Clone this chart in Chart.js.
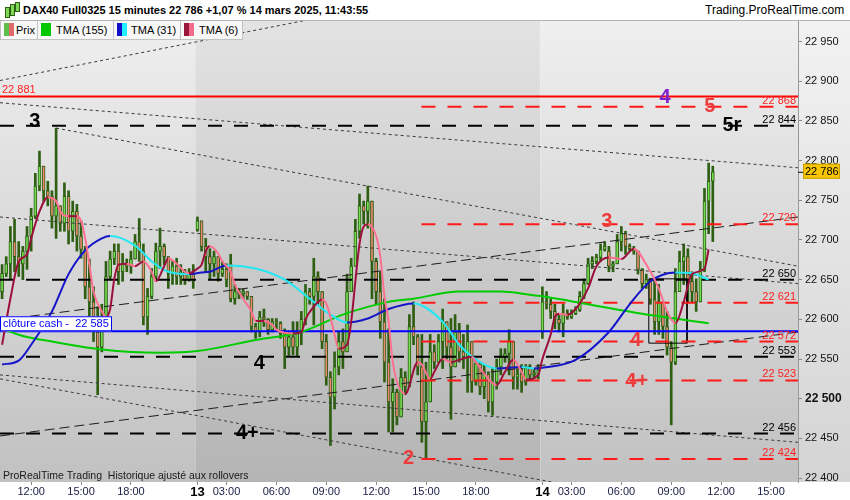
<!DOCTYPE html>
<html>
<head>
<meta charset="utf-8">
<script src="https://cdn.jsdelivr.net/npm/chart.js@4.4.1/dist/chart.umd.min.js"></script>
<style>
  body { margin: 0; width: 850px; height: 500px; overflow: hidden; background: #fff;
         font-family: "Liberation Sans", Arial, sans-serif; }
  #wrap { position: relative; width: 850px; height: 500px; }
  #title { position: absolute; left: 0; top: 0; width: 850px; height: 21px; background: #fff;
           border-bottom: 1px solid #b4b4b4; box-sizing: border-box; font-size: 11px; line-height: 21px; }
  #title b { position: absolute; left: 23px; top: 0; }
  #site { position: absolute; left: 705px; top: 0; font-size: 12px; }
  .ico { position: absolute; top: 3px; width: 3px; background: #7ed957; border: 1px solid #2d5e12; }
  #legend .lg { position: absolute; top: 21px; height: 19px; box-sizing: border-box; background: #f7f7f7;
                border: 1px solid #c2c2c2; border-top: none; font-size: 11px; line-height: 18px; }
  .sw { position: absolute; left: 3px; top: 2px; width: 10px; height: 13px; }
  .sw i { display: block; float: left; width: 5px; height: 13px; }
  .lg span.t { position: absolute; }
</style>
</head>
<body>
<div id="wrap">
  <canvas id="chart" width="850" height="500"></canvas>
  <div id="title">
    <div class="ico" style="left:5px;top:7px;height:9px"></div>
    <div class="ico" style="left:10px;top:4px;height:10px"></div>
    <div class="ico" style="left:15px;top:2px;height:8px"></div>
    <b>DAX40 Full0325 15 minutes 22 786 +1,07 % 14 mars 2025, 11:43:55</b>
    <span id="site">Trading.ProRealTime.com</span>
  </div>
  <div id="legend">
    <div class="lg" style="left:0;width:38px"><span class="sw"><i style="background:#5cbf4a"></i><i style="background:#e06a6a"></i></span><span class="t" style="left:15px">Prix</span></div>
    <div class="lg" style="left:37px;width:77px"><span class="sw"><i style="background:#00c800"></i><i style="background:#00c800"></i></span><span class="t" style="left:18px">TMA (155)</span></div>
    <div class="lg" style="left:113px;width:68px"><span class="sw"><i style="background:#1010c8"></i><i style="background:#20f0ff"></i></span><span class="t" style="left:17px">TMA (31)</span></div>
    <div class="lg" style="left:180px;width:63px"><span class="sw"><i style="background:#99163a"></i><i style="background:#f26b8a"></i></span><span class="t" style="left:18px">TMA (6)</span></div>
  </div>
</div>
<script>
// sessions: day, first bar (minutes), number of 15 min slots
const sessions = [['12', 615, 47], ['13', 75, 83], ['14', 75, 62]];

const xTickKeys = ['12 12:00', '12 15:00', '12 18:00', '13', '13 03:00', '13 06:00', '13 09:00',
  '13 12:00', '13 15:00', '13 18:00', '14', '14 03:00', '14 06:00', '14 09:00', '14 12:00', '14 15:00'];
const yTicks = [22400, 22450, 22500, 22550, 22600, 22650, 22700, 22750, 22800, 22850, 22900, 22950];

// 15 minute bars, 12 mars 10:15 -> 14 mars 11:30
const opens = [
  22635, 22658, 22670, 22698, 22679, 22670, 22686, 22705, 22730, 22768,
  22793, 22762, 22755, 22730, 22743, 22721, 22755, 22711, 22736, 22705,
  22688, 22641, 22622, 22584, 22565, 22603, 22654, 22676, 22686, 22660,
  22670, 22667, 22676, 22698, 22686, 22603, 22629, 22654, 22686, 22692,
  22679, 22658, 22667, 22654, 22660, 22650, 22658,
  22713, 22724, 22692, 22679, 22670, 22679, 22658, 22663, 22670, 22626,
  22635, 22632, 22635, 22629, 22591, 22584, 22603, 22600, 22587, 22597,
  22595, 22582, 22565, 22578, 22565, 22584, 22600, 22635, 22629, 22654,
  22635, 22572, 22527, 22502, 22540, 22572, 22559, 22635, 22667, 22711,
  22743, 22736, 22749, 22673, 22635, 22597, 22546, 22496, 22508, 22477,
  22527, 22515, 22591, 22578, 22540, 22471, 22496, 22559, 22546, 22572,
  22597, 22565, 22540, 22584, 22559, 22553, 22572, 22521, 22544, 22515,
  22531, 22496, 22521, 22540, 22553, 22557, 22572, 22527, 22531, 22521,
  22539, 22530, 22531,
  22584, 22622, 22619, 22610, 22600, 22595, 22607, 22603, 22607, 22612,
  22629, 22645, 22670, 22673, 22678, 22688, 22686, 22667, 22670, 22698,
  22708, 22692, 22689, 22686, 22663, 22645, 22650, 22625, 22597, 22622,
  22591, 22565, 22546, 22635, 22673, 22679, 22648, 22635, 22622, 22663,
  22749, 22774
];
const highs = [
  22669, 22679, 22717, 22726, 22698, 22692, 22717, 22740, 22784, 22812,
  22793, 22774, 22762, 22841, 22743, 22772, 22762, 22749, 22745, 22724,
  22692, 22676, 22641, 22616, 22619, 22673, 22686, 22695, 22695, 22683,
  22676, 22686, 22707, 22727, 22695, 22639, 22664, 22696, 22715, 22695,
  22679, 22673, 22677, 22669, 22663, 22664, 22669,
  22729, 22724, 22702, 22689, 22686, 22679, 22673, 22670, 22682, 22644,
  22639, 22638, 22635, 22629, 22595, 22610, 22613, 22601, 22601, 22601,
  22597, 22588, 22584, 22597, 22597, 22610, 22644, 22639, 22677, 22660,
  22635, 22581, 22534, 22559, 22584, 22588, 22657, 22677, 22726, 22758,
  22749, 22768, 22749, 22677, 22660, 22626, 22588, 22525, 22512, 22538,
  22534, 22606, 22622, 22581, 22581, 22546, 22581, 22568, 22581, 22613,
  22597, 22601, 22606, 22595, 22581, 22593, 22572, 22550, 22546, 22543,
  22534, 22538, 22550, 22563, 22563, 22587, 22572, 22538, 22543, 22543,
  22543, 22538, 22543,
  22641, 22635, 22626, 22619, 22606, 22619, 22612, 22612, 22616, 22635,
  22651, 22677, 22679, 22682, 22695, 22698, 22692, 22673, 22707, 22717,
  22711, 22695, 22692, 22686, 22664, 22657, 22651, 22651, 22644, 22622,
  22610, 22572, 22664, 22686, 22695, 22689, 22660, 22651, 22673, 22765,
  22797, 22793
];
const lows = [
  22626, 22654, 22651, 22660, 22654, 22650, 22663, 22686, 22727, 22762,
  22749, 22743, 22715, 22702, 22711, 22711, 22695, 22698, 22686, 22677,
  22626, 22603, 22572, 22505, 22559, 22603, 22650, 22669, 22644, 22648,
  22660, 22658, 22676, 22673, 22593, 22581, 22626, 22651, 22664, 22669,
  22639, 22644, 22644, 22644, 22644, 22648, 22639,
  22711, 22686, 22660, 22650, 22654, 22648, 22654, 22641, 22622, 22619,
  22626, 22626, 22625, 22584, 22576, 22578, 22591, 22581, 22584, 22588,
  22576, 22538, 22553, 22555, 22553, 22568, 22593, 22619, 22593, 22619,
  22563, 22517, 22441, 22487, 22530, 22538, 22559, 22635, 22667, 22702,
  22720, 22715, 22626, 22619, 22576, 22521, 22458, 22458, 22467, 22477,
  22505, 22515, 22568, 22530, 22445, 22424, 22496, 22538, 22546, 22538,
  22550, 22474, 22540, 22546, 22538, 22508, 22508, 22517, 22505, 22500,
  22483, 22479, 22512, 22530, 22546, 22530, 22512, 22512, 22508, 22517,
  22525, 22525, 22525,
  22576, 22613, 22601, 22588, 22584, 22578, 22600, 22601, 22606, 22610,
  22626, 22644, 22664, 22670, 22673, 22686, 22660, 22660, 22670, 22686,
  22682, 22686, 22682, 22657, 22639, 22639, 22619, 22581, 22581, 22576,
  22555, 22467, 22543, 22635, 22644, 22622, 22622, 22610, 22622, 22660,
  22708, 22698
];
const closes = [
  22658, 22670, 22698, 22679, 22670, 22686, 22705, 22730, 22768, 22793,
  22762, 22755, 22730, 22743, 22721, 22755, 22711, 22736, 22705, 22688,
  22641, 22622, 22584, 22565, 22603, 22654, 22676, 22686, 22660, 22670,
  22667, 22676, 22698, 22686, 22603, 22629, 22654, 22686, 22692, 22679,
  22658, 22667, 22654, 22660, 22650, 22658, 22648,
  22724, 22692, 22679, 22670, 22679, 22658, 22663, 22650, 22626, 22635,
  22632, 22635, 22629, 22591, 22584, 22603, 22600, 22587, 22597, 22595,
  22582, 22565, 22578, 22565, 22584, 22600, 22635, 22629, 22654, 22635,
  22572, 22527, 22502, 22540, 22572, 22559, 22635, 22667, 22711, 22743,
  22736, 22749, 22673, 22635, 22597, 22546, 22496, 22508, 22477, 22527,
  22515, 22591, 22578, 22540, 22471, 22496, 22559, 22546, 22572, 22597,
  22565, 22540, 22584, 22559, 22553, 22572, 22521, 22544, 22515, 22531,
  22496, 22521, 22540, 22553, 22557, 22572, 22527, 22531, 22521, 22539,
  22530, 22531, 22536,
  22622, 22619, 22610, 22600, 22595, 22607, 22603, 22607, 22612, 22629,
  22645, 22670, 22673, 22678, 22688, 22692, 22667, 22670, 22698, 22708,
  22692, 22689, 22686, 22663, 22645, 22650, 22625, 22597, 22622, 22591,
  22565, 22546, 22635, 22673, 22679, 22648, 22635, 22622, 22663, 22749,
  22774, 22786
];

// moving averages: [bar index, value]
const tma155 = [[0, 22588], [5, 22579], [12, 22572], [24, 22562], [38, 22558], [47, 22560], [61, 22574],
  [72, 22584], [82, 22606], [93, 22622], [99, 22626], [110, 22635], [120, 22635], [127, 22631],
  [130, 22629], [141, 22619], [154, 22607], [162, 22601], [170, 22595]];
const tma31 = [[0, 22543], [4, 22548], [7, 22568], [12, 22610], [16, 22657], [20, 22687], [24, 22702],
  [26, 22705], [32, 22693], [36, 22673], [40, 22660], [45, 22657], [48, 22659], [50, 22660], [54, 22668],
  [61, 22664], [68, 22650], [74, 22626], [79, 22606], [83, 22596], [88, 22601], [93, 22613], [99, 22620],
  [106, 22597], [110, 22568], [115, 22546], [119, 22538], [125, 22540], [128, 22538], [130, 22539],
  [138, 22549], [146, 22584], [151, 22619], [156, 22648], [162, 22659], [166, 22658], [170, 22650]];
const tma6 = [[0, 22568], [2, 22626], [4, 22673], [6, 22682], [7, 22702], [9, 22736], [11, 22754],
  [13, 22749], [14, 22736], [16, 22730], [18, 22730], [19, 22724], [20, 22702], [21, 22669], [22, 22635],
  [24, 22610], [25, 22603], [26, 22613], [27, 22651], [28, 22669], [30, 22670], [32, 22667], [34, 22673],
  [36, 22660], [37, 22648], [39, 22667], [40, 22677], [42, 22670], [44, 22660], [45, 22658], [47, 22664],
  [48, 22669], [49, 22686], [50, 22692], [52, 22683], [53, 22673], [55, 22660], [56, 22644], [58, 22626],
  [60, 22610], [61, 22598], [63, 22598], [65, 22593], [66, 22587], [68, 22583], [70, 22582], [72, 22584],
  [73, 22600], [75, 22616], [77, 22625], [78, 22620], [79, 22603], [80, 22581], [81, 22563], [83, 22568],
  [84, 22597], [85, 22648], [86, 22695], [87, 22717], [88, 22720], [90, 22705], [91, 22679], [92, 22629],
  [93, 22597], [94, 22546], [97, 22506], [100, 22546], [101, 22543], [103, 22525], [104, 22534],
  [106, 22550], [108, 22546], [110, 22549], [113, 22553], [114, 22546], [117, 22525], [119, 22517],
  [121, 22534], [123, 22549], [125, 22534], [126, 22524], [129, 22530], [130, 22550], [132, 22581],
  [133, 22603], [134, 22607], [136, 22606], [138, 22613], [141, 22639], [143, 22667], [146, 22678],
  [149, 22676], [152, 22689], [155, 22669], [158, 22639], [160, 22610], [162, 22595], [164, 22622],
  [166, 22657], [169, 22664], [170, 22688]];

// horizontal levels
const redSolid = 22881;
const cashClose = 22585;
const blackLevels = [22844, 22650, 22553, 22456];
const redLevels = [22868, 22720, 22621, 22572, 22523, 22424];
const lastPrice = 22786;

// drawn trend lines: [[bar, price], [bar, price]]
const dottedLines = [
  [[-0.5, 22901], [80, 22984]],
  [[-0.5, 22873], [191.5, 22791]],
  [[13, 22841], [191.5, 22667]],
  [[-0.5, 22729], [191.5, 22645]],
  [[-0.5, 22530], [191.5, 22445]],
  [[-0.5, 22525], [191.5, 22337]]
];
const longDashLines = [
  [[-0.5, 22599], [191.5, 22729]],
  [[-0.5, 22453], [191.5, 22584]]
];
const boxCorners = [[155.6, 22651], [164.8, 22570]];

// wave labels: text, bar, price, colour
const waveLabels = [
  ['3', 7.9, 22850, '#000'], ['4', 61.9, 22545, '#000'], ['4+', 59, 22457, '#000'],
  ['2', 97.8, 22426, '#ee3b3b'], ['3', 145.5, 22724, '#ee3b3b'], ['4', 152.5, 22574, '#ee3b3b'],
  ['4+', 152.7, 22523, '#ee3b3b'], ['4', 159.5, 22881, '#7b22cc'], ['5', 170.3, 22869, '#ee3b3b'],
  ['5r', 175.6, 22846, '#000']
];

// ---------------------------------------------------------------
const barDay = [], barTime = [];
sessions.forEach(([d, start, n]) => {
  for (let k = 0; k < n; k++) {
    const m = start + 15 * k;
    barDay.push(d);
    barTime.push(String(Math.floor(m / 60)).padStart(2, '0') + ':' + String(m % 60).padStart(2, '0'));
  }
});
const X0 = -0.5, X1 = barDay.length - 0.5;
const redStart = 100.9;

const xTickIdx = xTickKeys.map(k => {
  const [d, t] = k.split(' ');
  return t ? barTime.findIndex((v, i) => v === t && barDay[i] === d) : barDay.indexOf(d);
});
const keyFor = v => xTickKeys[xTickIdx.indexOf(v)] || '';
const isDayTick = c => !!(c && c.tick) && keyFor(c.tick.value) !== '' && keyFor(c.tick.value).indexOf(' ') < 0;
const xLabel = v => { const k = keyFor(v); return k.split(' ')[1] || k; };
const fmt = v => String(Math.round(v)).replace(/\B(?=(\d{3})+(?!\d))/g, ' ');

const dayStarts = [];
let acc = 0;
sessions.forEach(s => { dayStarts.push(acc - 0.5); acc += s[2]; });
dayStarts.push(acc - 0.5);

const WICK = '#2d5e12';
const lineDs = (pts, color, width, dash, order) => ({
  type: 'line',
  data: pts.map(([x, y]) => ({ x, y })),
  borderColor: color,
  borderWidth: width,
  borderDash: dash || [],
  pointRadius: 0,
  fill: false,
  order: order
});

const datasets = [
  {
    type: 'bar',
    data: closes.map((c, i) => ({ x: i, y: [lows[i], highs[i]] })),
    backgroundColor: WICK,
    barThickness: 2,
    grouped: false,
    order: 10
  },
  {
    type: 'bar',
    data: closes.map((c, i) => ({ x: i, y: [opens[i], c] })),
    backgroundColor: closes.map((c, i) => c >= opens[i] ? '#74dc50' : '#ec8870'),
    borderColor: WICK,
    borderWidth: 1,
    borderSkipped: false,
    barThickness: 3,
    minBarLength: 2,
    grouped: false,
    order: 9
  }
];

dottedLines.forEach(l => datasets.push(lineDs(l, '#3a3a3a', 1, [3, 3], 6)));
longDashLines.forEach(l => datasets.push(lineDs(l, '#1e1e1e', 1, [10, 5], 6)));
const [b0, b1] = boxCorners;
datasets.push(lineDs([[b0[0], b0[1]], [b1[0], b0[1]], [b1[0], b1[1]], [b0[0], b1[1]], [b0[0], b0[1]]], '#000', 1, null, 6));
blackLevels.forEach(v => datasets.push(lineDs([[X0, v], [X1, v]], '#000', 2, [14, 12], 5)));
redLevels.forEach(v => datasets.push(lineDs([[redStart, v], [X1, v]], '#ff1a1a', 2, [14, 12], 5)));
datasets.push(lineDs([[X0, redSolid], [X1, redSolid]], '#ff0000', 2, null, 5));
datasets.push(lineDs([[X0, cashClose], [X1, cashClose]], '#0000ff', 2, null, 5));

const tmaDs = (pts, up, down, order) => Object.assign(lineDs(pts, up, 2, null, order), {
  cubicInterpolationMode: 'monotone',
  segment: { borderColor: c => c.p1.parsed.y >= c.p0.parsed.y ? up : down }
});
datasets.push(tmaDs(tma155, '#00cc00', '#00cc00', 3));
datasets.push(tmaDs(tma31, '#1414c8', '#22e8f6', 2));
datasets.push(tmaDs(tma6, '#9c0f3c', '#ff7090', 1));

const background = {
  id: 'background',
  beforeDraw(chart) {
    const { ctx, chartArea: a, scales: { x } } = chart;
    ctx.save();
    ctx.fillStyle = '#fff';
    ctx.fillRect(0, 0, chart.width, chart.height);
    for (let d = 0; d < sessions.length; d++) {
      const l = x.getPixelForValue(dayStarts[d]);
      const r = x.getPixelForValue(dayStarts[d + 1]);
      const g = ctx.createLinearGradient(0, a.top, 0, a.bottom);
      if (d % 2 === 0) { g.addColorStop(0, '#efefef'); g.addColorStop(1, '#c1c1c1'); }
      else { g.addColorStop(0, '#e3e3e3'); g.addColorStop(1, '#b4b4b4'); }
      ctx.fillStyle = g;
      ctx.fillRect(l, a.top, Math.min(r, a.right) - l, a.bottom - a.top);
    }
    const g2 = ctx.createLinearGradient(0, a.top, 0, a.bottom);
    g2.addColorStop(0, '#f2f2f2');
    g2.addColorStop(1, '#d4d4d4');
    ctx.fillStyle = g2;
    ctx.fillRect(a.right, a.top, chart.width - a.right, a.bottom - a.top);
    ctx.restore();
  }
};

const notes = {
  id: 'notes',
  afterDatasetsDraw(chart) {
    const { ctx, chartArea: a, scales: { x, y } } = chart;
    ctx.save();
    ctx.font = '11px "Liberation Sans", Arial, sans-serif';
    ctx.textBaseline = 'alphabetic';
    ctx.textAlign = 'right';
    blackLevels.forEach(v => { ctx.fillStyle = '#000'; ctx.fillText(fmt(v), a.right - 2, y.getPixelForValue(v) - 3); });
    redLevels.forEach(v => { ctx.fillStyle = '#ff2020'; ctx.fillText(fmt(v), a.right - 2, y.getPixelForValue(v) - 3); });
    ctx.textAlign = 'left';
    ctx.fillStyle = '#ff2020';
    ctx.fillText(fmt(redSolid), 2, y.getPixelForValue(redSolid) - 3);

    // cash close tag
    const cy = y.getPixelForValue(cashClose);
    ctx.fillStyle = '#fff';
    ctx.fillRect(0, cy - 15, 112, 15);
    ctx.strokeStyle = '#0000ff';
    ctx.lineWidth = 1;
    ctx.strokeRect(0.5, cy - 14.5, 111, 14);
    ctx.fillStyle = '#0000ff';
    ctx.fillText('clôture cash -  ' + fmt(cashClose), 3, cy - 4);

    ctx.fillStyle = '#1a1a1a';
    ctx.font = '10.5px "Liberation Sans", Arial, sans-serif';
    ctx.fillText('ProRealTime Trading  Historique ajusté aux rollovers', 3, a.bottom - 3);

    ctx.font = 'bold 20px "Liberation Sans", Arial, sans-serif';
    ctx.textAlign = 'center';
    ctx.textBaseline = 'middle';
    waveLabels.forEach(([t, bi, p, col]) => {
      ctx.fillStyle = col;
      ctx.fillText(t, x.getPixelForValue(bi), y.getPixelForValue(p) + 1);
    });
    ctx.restore();
  },
  afterDraw(chart) {
    const { ctx, chartArea: a, scales: { y } } = chart;
    const py = y.getPixelForValue(lastPrice);
    ctx.save();
    ctx.strokeStyle = '#000';
    ctx.beginPath();
    ctx.moveTo(a.right, py + 0.5);
    ctx.lineTo(a.right + 5, py + 0.5);
    ctx.stroke();
    ctx.fillStyle = '#f7c600';
    ctx.fillRect(a.right + 5, py - 8, 37, 15);
    ctx.strokeStyle = '#c9a000';
    ctx.strokeRect(a.right + 5.5, py - 7.5, 36, 14);
    ctx.fillStyle = '#000';
    ctx.font = '11px "Liberation Sans", Arial, sans-serif';
    ctx.textBaseline = 'middle';
    ctx.fillText(fmt(lastPrice), a.right + 7, py);
    ctx.restore();
  }
};

Chart.defaults.font.family = '"Liberation Sans", Arial, sans-serif';
Chart.defaults.font.size = 11;

new Chart(document.getElementById('chart'), {
  type: 'bar',
  data: { datasets },
  options: {
    responsive: false,
    animation: false,
    devicePixelRatio: 1,
    events: [],
    layout: { padding: { top: 21, left: 0, right: 0, bottom: 0 } },
    plugins: { legend: { display: false }, tooltip: { enabled: false } },
    scales: {
      x: {
        type: 'linear',
        offset: false,
        min: X0,
        max: X1,
        afterBuildTicks: s => { s.ticks = xTickIdx.map(v => ({ value: v })); },
        afterFit: s => { s.height = 18; },
        grid: { drawOnChartArea: false, offset: false, tickLength: 3, color: '#888' },
        border: { display: false },
        ticks: {
          autoSkip: false,
          maxRotation: 0,
          padding: 0,
          callback: v => xLabel(v),
          color: c => isDayTick(c) ? '#000' : '#20204a',
          font: c => isDayTick(c) ? { size: 13, weight: 'bold' } : { size: 11 }
        }
      },
      y: {
        position: 'right',
        min: 22395,
        max: 22976,
        afterBuildTicks: s => { s.ticks = yTicks.map(v => ({ value: v })); },
        afterFit: s => { s.width = 52; },
        grid: { drawOnChartArea: false, tickLength: 4, color: '#888' },
        border: { display: true, color: '#999' },
        ticks: {
          padding: 3,
          color: '#111',
          callback: v => fmt(v),
          font: c => (c && c.tick && c.tick.value === 22500) ? { size: 12, weight: 'bold' } : { size: 11 }
        }
      }
    }
  },
  plugins: [background, notes]
});
</script>
</body>
</html>
